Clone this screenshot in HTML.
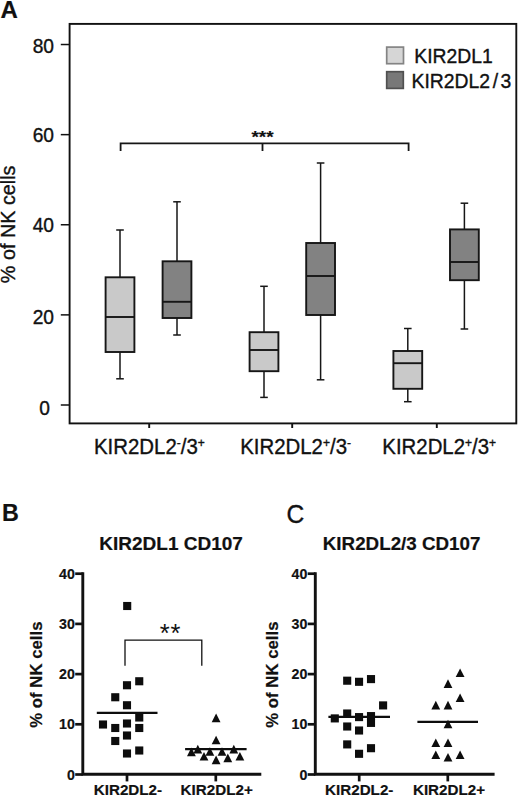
<!DOCTYPE html>
<html><head><meta charset="utf-8"><title>Figure</title>
<style>html,body{margin:0;padding:0;background:#fff;}svg{display:block;}text{font-family:"Liberation Sans", sans-serif;fill:#111;}.r{stroke:#111;stroke-width:0.35px;}.b{font-weight:bold;stroke:#111;stroke-width:0.2px;}</style>
</head><body>
<svg width="520" height="795" viewBox="0 0 520 795">
<rect x="0" y="0" width="520" height="795" fill="#ffffff"/>
<text class="b" transform="translate(0.60,18.20)" font-size="24.00" text-anchor="start">A</text>
<rect x="69.6" y="23.9" width="446.7" height="399.5" fill="none" stroke="#111" stroke-width="1.9"/>
<line x1="60.8" y1="405.00" x2="69.6" y2="405.00" stroke="#111" stroke-width="1.5"/>
<text class="r" transform="translate(50.00,415.10) scale(1.000,1.050)" font-size="19.20" text-anchor="end">0</text>
<line x1="60.8" y1="314.88" x2="69.6" y2="314.88" stroke="#111" stroke-width="1.5"/>
<text class="r" transform="translate(54.00,323.90) scale(1.000,1.050)" font-size="19.20" text-anchor="end">20</text>
<line x1="60.8" y1="224.76" x2="69.6" y2="224.76" stroke="#111" stroke-width="1.5"/>
<text class="r" transform="translate(54.00,232.40) scale(1.000,1.050)" font-size="19.20" text-anchor="end">40</text>
<line x1="60.8" y1="134.64" x2="69.6" y2="134.64" stroke="#111" stroke-width="1.5"/>
<text class="r" transform="translate(54.00,142.40) scale(1.000,1.050)" font-size="19.20" text-anchor="end">60</text>
<line x1="60.8" y1="44.52" x2="69.6" y2="44.52" stroke="#111" stroke-width="1.5"/>
<text class="r" transform="translate(54.00,52.60) scale(1.000,1.050)" font-size="19.20" text-anchor="end">80</text>
<text class="r" transform="translate(15.40,283.20) rotate(-90) scale(1.000,0.980)" font-size="19.80" text-anchor="start">% of NK cells</text>
<line x1="149.2" y1="423" x2="149.2" y2="428" stroke="#111" stroke-width="1.9"/>
<line x1="292.2" y1="423" x2="292.2" y2="428" stroke="#111" stroke-width="1.9"/>
<line x1="436.8" y1="423" x2="436.8" y2="428" stroke="#111" stroke-width="1.9"/>
<text class="r" transform="translate(149.40,453.50) scale(1.000,1.050)" font-size="20.40" text-anchor="middle">KIR2DL2<tspan font-size="12" dy="-6.2">-</tspan><tspan dy="6.2">/3</tspan><tspan font-size="12" dy="-6.2">+</tspan></text>
<text class="r" transform="translate(295.60,453.50) scale(1.000,1.050)" font-size="20.40" text-anchor="middle">KIR2DL2<tspan font-size="12" dy="-6.2">+</tspan><tspan dy="6.2">/3</tspan><tspan font-size="12" dy="-6.2">-</tspan></text>
<text class="r" transform="translate(439.20,453.50) scale(1.000,1.050)" font-size="20.40" text-anchor="middle">KIR2DL2<tspan font-size="12" dy="-6.2">+</tspan><tspan dy="6.2">/3</tspan><tspan font-size="12" dy="-6.2">+</tspan></text>
<g stroke="#161616" stroke-width="1.5" fill="none">
<line x1="120.0" y1="230.0" x2="120.0" y2="277.3"/>
<line x1="120.0" y1="352.0" x2="120.0" y2="378.8"/>
<line x1="116.2" y1="230.0" x2="123.8" y2="230.0"/>
<line x1="116.2" y1="378.8" x2="123.8" y2="378.8"/>
<rect x="105.6" y="277.3" width="28.8" height="74.7" fill="#c9c9c9" stroke-width="1.9"/>
<line x1="105.6" y1="317.0" x2="134.4" y2="317.0" stroke-width="1.9"/>
</g>
<g stroke="#161616" stroke-width="1.5" fill="none">
<line x1="177.0" y1="201.8" x2="177.0" y2="261.3"/>
<line x1="177.0" y1="318.0" x2="177.0" y2="335.0"/>
<line x1="173.2" y1="201.8" x2="180.8" y2="201.8"/>
<line x1="173.2" y1="335.0" x2="180.8" y2="335.0"/>
<rect x="162.6" y="261.3" width="28.8" height="56.7" fill="#828282" stroke-width="1.9"/>
<line x1="162.6" y1="301.8" x2="191.4" y2="301.8" stroke-width="1.9"/>
</g>
<g stroke="#161616" stroke-width="1.5" fill="none">
<line x1="264.0" y1="286.3" x2="264.0" y2="332.2"/>
<line x1="264.0" y1="371.2" x2="264.0" y2="397.4"/>
<line x1="260.2" y1="286.3" x2="267.8" y2="286.3"/>
<line x1="260.2" y1="397.4" x2="267.8" y2="397.4"/>
<rect x="249.6" y="332.2" width="28.8" height="39.0" fill="#c9c9c9" stroke-width="1.9"/>
<line x1="249.6" y1="350.0" x2="278.4" y2="350.0" stroke-width="1.9"/>
</g>
<g stroke="#161616" stroke-width="1.5" fill="none">
<line x1="320.6" y1="163.0" x2="320.6" y2="243.0"/>
<line x1="320.6" y1="315.0" x2="320.6" y2="379.8"/>
<line x1="316.8" y1="163.0" x2="324.4" y2="163.0"/>
<line x1="316.8" y1="379.8" x2="324.4" y2="379.8"/>
<rect x="306.2" y="243.0" width="28.8" height="72.0" fill="#828282" stroke-width="1.9"/>
<line x1="306.2" y1="276.0" x2="335.0" y2="276.0" stroke-width="1.9"/>
</g>
<g stroke="#161616" stroke-width="1.5" fill="none">
<line x1="407.8" y1="328.5" x2="407.8" y2="351.0"/>
<line x1="407.8" y1="388.8" x2="407.8" y2="401.7"/>
<line x1="404.0" y1="328.5" x2="411.6" y2="328.5"/>
<line x1="404.0" y1="401.7" x2="411.6" y2="401.7"/>
<rect x="393.4" y="351.0" width="28.8" height="37.8" fill="#c9c9c9" stroke-width="1.9"/>
<line x1="393.4" y1="363.2" x2="422.2" y2="363.2" stroke-width="1.9"/>
</g>
<g stroke="#161616" stroke-width="1.5" fill="none">
<line x1="464.4" y1="203.2" x2="464.4" y2="229.4"/>
<line x1="464.4" y1="280.2" x2="464.4" y2="329.0"/>
<line x1="460.6" y1="203.2" x2="468.2" y2="203.2"/>
<line x1="460.6" y1="329.0" x2="468.2" y2="329.0"/>
<rect x="450.0" y="229.4" width="28.8" height="50.8" fill="#828282" stroke-width="1.9"/>
<line x1="450.0" y1="262.0" x2="478.8" y2="262.0" stroke-width="1.9"/>
</g>
<path d="M120.6 151 V143.4 H408.6 V151 M262.5 143.4 V151" fill="none" stroke="#161616" stroke-width="1.8"/>
<text class="b" transform="translate(262.50,143.20) scale(1.000,0.900)" font-size="19.00" text-anchor="middle">***</text>
<rect x="386.7" y="47.1" width="16.8" height="16.6" fill="#d6d6d6" stroke="#848484" stroke-width="1.7"/>
<rect x="386.7" y="71.7" width="16.6" height="16.7" fill="#787878" stroke="#505050" stroke-width="1.7"/>
<text class="r" transform="translate(414.30,63.20) scale(1.000,1.080)" font-size="19.35" text-anchor="start">KIR2DL1</text>
<text class="r" transform="translate(411.50,87.60) scale(1.000,1.090)" font-size="19.35" text-anchor="start">KIR2DL2<tspan dx="2.8">/</tspan><tspan dx="2.4">3</tspan></text>
<text class="b" transform="translate(2.00,521.30)" font-size="23.30" text-anchor="start">B</text>
<text class="b" transform="translate(99.30,550.20)" font-size="19.00" text-anchor="start">KIR2DL1 CD107</text>
<path d="M82.80 572.2 V774.30 H261.3" fill="none" stroke="#111" stroke-width="2.9"/>
<line x1="75.2" y1="774.50" x2="82.8" y2="774.50" stroke="#111" stroke-width="2.7"/>
<text class="b" transform="translate(74.90,779.60)" font-size="14.20" text-anchor="end">0</text>
<line x1="75.2" y1="724.30" x2="82.8" y2="724.30" stroke="#111" stroke-width="2.7"/>
<text class="b" transform="translate(74.90,729.40)" font-size="14.20" text-anchor="end">10</text>
<line x1="75.2" y1="674.10" x2="82.8" y2="674.10" stroke="#111" stroke-width="2.7"/>
<text class="b" transform="translate(74.90,679.20)" font-size="14.20" text-anchor="end">20</text>
<line x1="75.2" y1="623.90" x2="82.8" y2="623.90" stroke="#111" stroke-width="2.7"/>
<text class="b" transform="translate(74.90,629.00)" font-size="14.20" text-anchor="end">30</text>
<line x1="75.2" y1="573.70" x2="82.8" y2="573.70" stroke="#111" stroke-width="2.7"/>
<text class="b" transform="translate(74.90,578.80)" font-size="14.20" text-anchor="end">40</text>
<line x1="127.0" y1="774.3" x2="127.0" y2="781.4" stroke="#111" stroke-width="2.7"/>
<line x1="215.8" y1="774.3" x2="215.8" y2="781.4" stroke="#111" stroke-width="2.7"/>
<text class="b" transform="translate(127.90,794.60)" font-size="15.20" text-anchor="middle">KIR2DL2-</text>
<text class="b" transform="translate(216.70,794.60)" font-size="15.20" text-anchor="middle">KIR2DL2+</text>
<text class="b" transform="translate(42.20,727.80) rotate(-90)" font-size="16.80" text-anchor="start">% of NK cells</text>
<rect x="123.15" y="601.95" width="8.1" height="8.1" fill="#0d0d0d"/>
<rect x="135.20" y="677.20" width="8.1" height="8.1" fill="#0d0d0d"/>
<rect x="122.95" y="681.20" width="8.1" height="8.1" fill="#0d0d0d"/>
<rect x="111.20" y="693.20" width="8.1" height="8.1" fill="#0d0d0d"/>
<rect x="122.95" y="701.20" width="8.1" height="8.1" fill="#0d0d0d"/>
<rect x="135.20" y="713.45" width="8.1" height="8.1" fill="#0d0d0d"/>
<rect x="98.95" y="720.45" width="8.1" height="8.1" fill="#0d0d0d"/>
<rect x="122.95" y="719.45" width="8.1" height="8.1" fill="#0d0d0d"/>
<rect x="111.20" y="723.95" width="8.1" height="8.1" fill="#0d0d0d"/>
<rect x="135.20" y="723.95" width="8.1" height="8.1" fill="#0d0d0d"/>
<rect x="122.95" y="731.45" width="8.1" height="8.1" fill="#0d0d0d"/>
<rect x="111.20" y="736.95" width="8.1" height="8.1" fill="#0d0d0d"/>
<rect x="135.20" y="746.45" width="8.1" height="8.1" fill="#0d0d0d"/>
<rect x="122.95" y="749.45" width="8.1" height="8.1" fill="#0d0d0d"/>
<path d="M211.70 722.20 L220.50 722.20 L216.10 713.60 Z" fill="#0d0d0d"/>
<path d="M211.70 744.30 L220.50 744.30 L216.10 735.70 Z" fill="#0d0d0d"/>
<path d="M193.40 753.40 L202.20 753.40 L197.80 744.80 Z" fill="#0d0d0d"/>
<path d="M229.40 753.40 L238.20 753.40 L233.80 744.80 Z" fill="#0d0d0d"/>
<path d="M187.00 756.20 L195.80 756.20 L191.40 747.60 Z" fill="#0d0d0d"/>
<path d="M205.50 755.80 L214.30 755.80 L209.90 747.20 Z" fill="#0d0d0d"/>
<path d="M217.60 755.80 L226.40 755.80 L222.00 747.20 Z" fill="#0d0d0d"/>
<path d="M199.60 760.60 L208.40 760.60 L204.00 752.00 Z" fill="#0d0d0d"/>
<path d="M223.40 762.20 L232.20 762.20 L227.80 753.60 Z" fill="#0d0d0d"/>
<path d="M235.50 760.60 L244.30 760.60 L239.90 752.00 Z" fill="#0d0d0d"/>
<path d="M211.70 764.20 L220.50 764.20 L216.10 755.60 Z" fill="#0d0d0d"/>
<line x1="96.8" y1="712.8" x2="157.5" y2="712.8" stroke="#0d0d0d" stroke-width="2.2"/>
<line x1="185.1" y1="749.1" x2="246.6" y2="749.1" stroke="#0d0d0d" stroke-width="2.2"/>
<path d="M125.0 665.8 V640.1 H201.8 V665.8" fill="none" stroke="#111" stroke-width="1.3"/>
<text class="n" transform="translate(170.40,641.60)" font-size="25.50" text-anchor="middle" letter-spacing="0.8">**</text>
<text class="r" transform="translate(286.50,522.90) scale(1.000,1.070)" font-size="24.60" text-anchor="start">C</text>
<text class="b" transform="translate(322.80,550.20)" font-size="18.80" text-anchor="start">KIR2DL2/3 CD107</text>
<path d="M315.30 572.2 V774.30 H494.6" fill="none" stroke="#111" stroke-width="2.9"/>
<line x1="307.7" y1="774.50" x2="315.3" y2="774.50" stroke="#111" stroke-width="2.7"/>
<text class="b" transform="translate(307.40,779.60)" font-size="14.20" text-anchor="end">0</text>
<line x1="307.7" y1="724.30" x2="315.3" y2="724.30" stroke="#111" stroke-width="2.7"/>
<text class="b" transform="translate(307.40,729.40)" font-size="14.20" text-anchor="end">10</text>
<line x1="307.7" y1="674.10" x2="315.3" y2="674.10" stroke="#111" stroke-width="2.7"/>
<text class="b" transform="translate(307.40,679.20)" font-size="14.20" text-anchor="end">20</text>
<line x1="307.7" y1="623.90" x2="315.3" y2="623.90" stroke="#111" stroke-width="2.7"/>
<text class="b" transform="translate(307.40,629.00)" font-size="14.20" text-anchor="end">30</text>
<line x1="307.7" y1="573.70" x2="315.3" y2="573.70" stroke="#111" stroke-width="2.7"/>
<text class="b" transform="translate(307.40,578.80)" font-size="14.20" text-anchor="end">40</text>
<line x1="359.2" y1="774.3" x2="359.2" y2="781.4" stroke="#111" stroke-width="2.7"/>
<line x1="447.8" y1="774.3" x2="447.8" y2="781.4" stroke="#111" stroke-width="2.7"/>
<text class="b" transform="translate(359.20,794.60)" font-size="15.20" text-anchor="middle">KIR2DL2-</text>
<text class="b" transform="translate(449.00,794.60)" font-size="15.20" text-anchor="middle">KIR2DL2+</text>
<text class="b" transform="translate(278.20,727.80) rotate(-90)" font-size="16.80" text-anchor="start">% of NK cells</text>
<rect x="343.15" y="676.65" width="8.1" height="8.1" fill="#0d0d0d"/>
<rect x="355.00" y="677.75" width="8.1" height="8.1" fill="#0d0d0d"/>
<rect x="366.95" y="675.05" width="8.1" height="8.1" fill="#0d0d0d"/>
<rect x="379.05" y="701.35" width="8.1" height="8.1" fill="#0d0d0d"/>
<rect x="343.15" y="709.45" width="8.1" height="8.1" fill="#0d0d0d"/>
<rect x="330.75" y="714.35" width="8.1" height="8.1" fill="#0d0d0d"/>
<rect x="355.00" y="713.05" width="8.1" height="8.1" fill="#0d0d0d"/>
<rect x="366.95" y="712.05" width="8.1" height="8.1" fill="#0d0d0d"/>
<rect x="366.95" y="718.85" width="8.1" height="8.1" fill="#0d0d0d"/>
<rect x="343.15" y="722.45" width="8.1" height="8.1" fill="#0d0d0d"/>
<rect x="355.00" y="726.45" width="8.1" height="8.1" fill="#0d0d0d"/>
<rect x="343.15" y="740.35" width="8.1" height="8.1" fill="#0d0d0d"/>
<rect x="366.95" y="744.15" width="8.1" height="8.1" fill="#0d0d0d"/>
<rect x="355.00" y="749.75" width="8.1" height="8.1" fill="#0d0d0d"/>
<path d="M455.70 677.10 L464.50 677.10 L460.10 668.50 Z" fill="#0d0d0d"/>
<path d="M443.60 687.90 L452.40 687.90 L448.00 679.30 Z" fill="#0d0d0d"/>
<path d="M455.70 702.00 L464.50 702.00 L460.10 693.40 Z" fill="#0d0d0d"/>
<path d="M431.40 709.40 L440.20 709.40 L435.80 700.80 Z" fill="#0d0d0d"/>
<path d="M443.60 709.40 L452.40 709.40 L448.00 700.80 Z" fill="#0d0d0d"/>
<path d="M443.60 728.30 L452.40 728.30 L448.00 719.70 Z" fill="#0d0d0d"/>
<path d="M431.40 747.00 L440.20 747.00 L435.80 738.40 Z" fill="#0d0d0d"/>
<path d="M443.60 747.00 L452.40 747.00 L448.00 738.40 Z" fill="#0d0d0d"/>
<path d="M431.40 759.10 L440.20 759.10 L435.80 750.50 Z" fill="#0d0d0d"/>
<path d="M443.60 761.50 L452.40 761.50 L448.00 752.90 Z" fill="#0d0d0d"/>
<path d="M455.70 759.10 L464.50 759.10 L460.10 750.50 Z" fill="#0d0d0d"/>
<line x1="328.4" y1="716.8" x2="390.0" y2="716.8" stroke="#0d0d0d" stroke-width="2.2"/>
<line x1="417.4" y1="721.8" x2="478.0" y2="721.8" stroke="#0d0d0d" stroke-width="2.2"/>
</svg>
</body></html>
